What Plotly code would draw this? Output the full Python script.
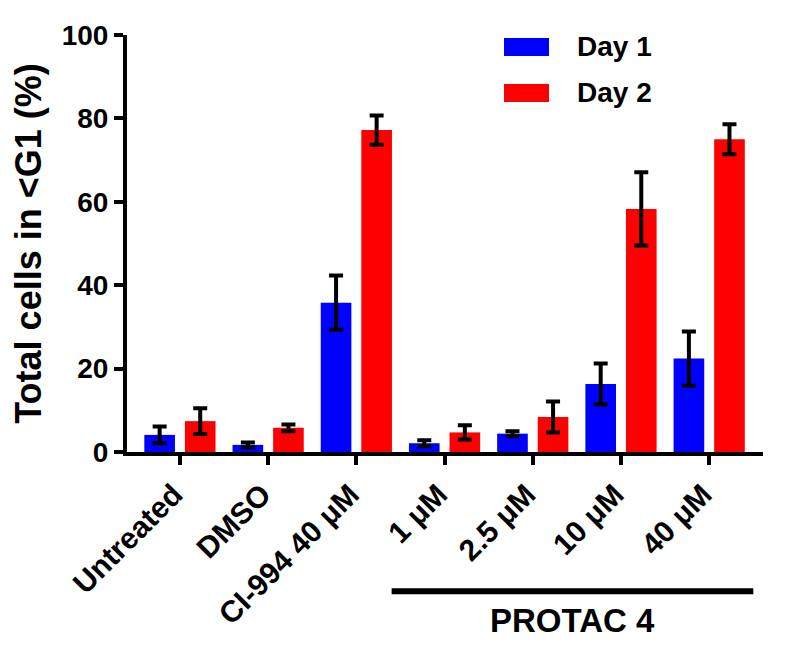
import plotly.graph_objects as go

categories = ["Untreated", "DMSO", "CI-994 40 μM", "1 μM", "2.5 μM", "10 μM", "40 μM"]
day1_mean = [4.1, 1.7, 35.8, 2.1, 4.4, 16.3, 22.4]
day1_err = [2.0, 0.6, 6.5, 0.7, 0.6, 4.9, 6.5]
day2_mean = [7.4, 5.8, 77.2, 4.7, 8.4, 58.3, 75.0]
day2_err = [3.1, 0.8, 3.5, 1.7, 3.7, 8.8, 3.6]
series_names = ["Day 1", "Day 2"]
y_ticks = [0, 20, 40, 60, 80, 100]

FONT = "Liberation Sans, Arial, sans-serif"
BLUE = "#0000ff"
RED = "#ff0000"

# page body has an 8px default margin; plot area in page px: x 127-763, y 35-452.5
PL, PR, PT, PB = 127, 763, 35, 452.5
PW, PH = PR - PL, PB - PT

fig = go.Figure()
for name, mean, err, color in [(series_names[0], day1_mean, day1_err, BLUE),
                               (series_names[1], day2_mean, day2_err, RED)]:
    fig.add_trace(go.Bar(
        x=list(range(len(categories))), y=mean, name=name,
        marker=dict(color=color, line=dict(width=0)),
        error_y=dict(type="data", array=err, visible=True, color="black",
                     thickness=4, width=7),
        showlegend=False,
    ))

fig.update_layout(
    width=792, height=643,
    barmode="group", bargap=0.08, bargroupgap=0.245,
    plot_bgcolor="white", paper_bgcolor="white",
    margin=dict(l=PL - 8, r=800 - PR, t=PT - 8, b=651 - PB),
    font=dict(family=FONT, color="black"),
)
fig.update_xaxes(
    range=[-0.6, 6.61], tickmode="array",
    tickvals=list(range(len(categories))), ticktext=categories,
    tickangle=-45, tickfont=dict(size=30, family=FONT, weight="bold"),
    ticklabelshift=-6,
    showline=True, linewidth=4, linecolor="black",
    ticks="outside", ticklen=9, tickwidth=4, tickcolor="black",
    showgrid=False, zeroline=False,
)
fig.update_yaxes(
    range=[0, 100], tickmode="array", tickvals=y_ticks,
    tickfont=dict(size=28, family=FONT, weight="bold"),
    showline=True, linewidth=4, linecolor="black",
    ticks="outside", ticklen=9, tickwidth=4, tickcolor="black",
    showgrid=False, zeroline=False,
    title=dict(text="Total cells in <G1 (%)", standoff=11,
               font=dict(size=36, family=FONT, weight="bold")),
)

# Legend (custom, to match the large swatches)
for i, (name, color) in enumerate(zip(series_names, [BLUE, RED])):
    y0 = 38 + i * 46
    fig.add_shape(type="rect", xref="paper", yref="paper",
                  x0=(504 - PL) / PW, x1=(549 - PL) / PW,
                  y0=1 - (y0 + 18 - PT) / PH, y1=1 - (y0 - PT) / PH,
                  fillcolor=color, line=dict(width=0))
    fig.add_annotation(xref="paper", yref="paper",
                       x=(575 - PL) / PW, y=1 - (y0 + 9 - PT) / PH,
                       text=name, showarrow=False, xanchor="left", yanchor="middle",
                       font=dict(size=28, family=FONT, weight="bold"))

# PROTAC 4 bracket
fig.add_shape(type="line", xref="x", yref="paper",
              x0=2.40, x1=6.50, y0=-(592 - PB) / PH, y1=-(592 - PB) / PH,
              line=dict(color="black", width=6))
fig.add_annotation(xref="x", yref="paper", x=4.45, y=-(621 - PB) / PH,
                   text="PROTAC 4", showarrow=False, xanchor="center", yanchor="middle",
                   font=dict(size=33, family=FONT, weight="bold"))

fig.write_html("out.html")
